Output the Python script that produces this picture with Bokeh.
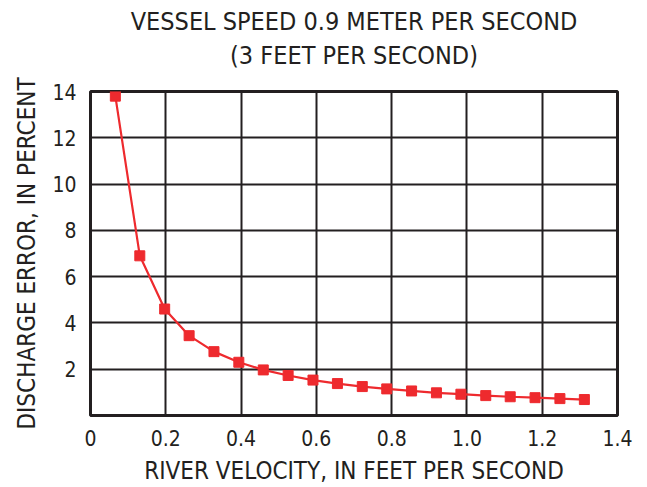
from bokeh.plotting import figure
from bokeh.embed import file_html
from bokeh.resources import INLINE
from bokeh.models import FixedTicker, Range1d, Title

river_velocity = [0.066, 0.131, 0.197, 0.262, 0.328, 0.394, 0.459, 0.525, 0.591, 0.656,
                  0.722, 0.787, 0.853, 0.919, 0.984, 1.050, 1.115, 1.181, 1.247, 1.312]
discharge_error = [13.8, 6.9, 4.6, 3.45, 2.76, 2.3, 1.97, 1.73, 1.53, 1.38,
                   1.25, 1.15, 1.06, 0.98, 0.92, 0.86, 0.81, 0.77, 0.73, 0.69]
x_ticks = [0, 0.2, 0.4, 0.6, 0.8, 1.0, 1.2, 1.4]
y_ticks = [2, 4, 6, 8, 10, 12, 14]
title_lines = ["VESSEL SPEED 0.9 METER PER SECOND", "(3 FEET PER SECOND)"]

FONT = "DejaVu Sans Condensed, Liberation Sans Narrow, sans-serif"
INK = "#231f20"
RED = "#ee2a2e"

p = figure(output_backend="svg", toolbar_location=None,
           width=639, height=479,
           frame_width=527, frame_height=324,
           min_border_left=90, min_border_top=91, min_border_right=22, min_border_bottom=64,
           x_range=Range1d(0, 1.4), y_range=Range1d(0, 14))
p.title = None

# second line added first so it sits closest to the plot
for line, off in ((title_lines[1], 44), (title_lines[0], -38)):
    t = Title(text=line, align="center", text_font=FONT, text_font_size="25px",
              text_font_style="normal", text_color=INK, standoff=off)
    p.add_layout(t, "above")

p.line(river_velocity, discharge_error, line_color=RED, line_width=2.2)
p.scatter(river_velocity, discharge_error, marker="square", size=10,
          fill_color=RED, line_color=RED)

p.xaxis.ticker = FixedTicker(ticks=x_ticks)
p.yaxis.ticker = FixedTicker(ticks=y_ticks)
p.xaxis.major_label_overrides = {0: "0", 1.0: "1.0"}
p.xaxis.axis_label = "RIVER VELOCITY, IN FEET PER SECOND"
p.yaxis.axis_label = "DISCHARGE ERROR, IN PERCENT"

for ax in (p.xaxis, p.yaxis):
    ax.axis_line_color = None
    ax.major_tick_line_color = None
    ax.minor_tick_line_color = None
    ax.major_label_text_font = FONT
    ax.major_label_text_font_size = "21px"
    ax.major_label_text_color = INK
    ax.axis_label_text_font = FONT
    ax.axis_label_text_font_size = "24px"
    ax.axis_label_text_font_style = "normal"
    ax.axis_label_text_color = INK
    ax.axis_label_standoff = 8
p.xaxis.major_label_standoff = 8
p.yaxis.major_label_standoff = 8

p.xgrid.grid_line_color = INK
p.ygrid.grid_line_color = INK
p.xgrid.grid_line_width = 2
p.ygrid.grid_line_width = 2
p.xgrid.grid_line_alpha = 1
p.ygrid.grid_line_alpha = 1

p.outline_line_color = INK
p.outline_line_width = 3
p.background_fill_color = "white"
p.border_fill_color = "white"

open("out.html", "w").write(file_html(p, INLINE))
